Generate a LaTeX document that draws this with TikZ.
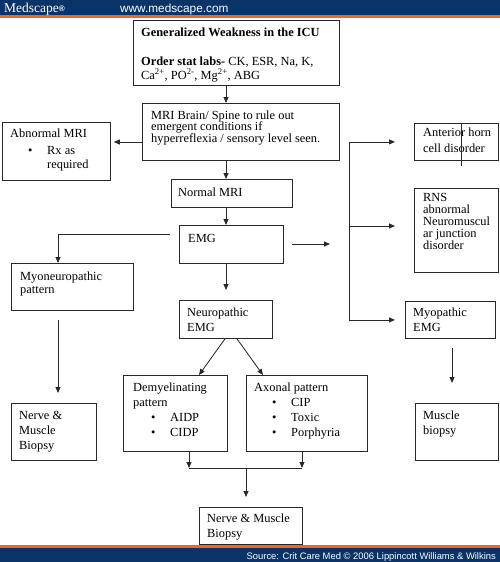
\documentclass[tikz,border=0pt]{standalone}
\usepackage{fontspec}
\setmainfont{Liberation Serif}
\newfontfamily\hsans{Liberation Sans}
\usetikzlibrary{arrows.meta}
\definecolor{hblue}{RGB}{10,52,104}
\definecolor{horange}{RGB}{240,104,24}
\definecolor{ink}{RGB}{40,40,40}
\newcommand{\bul}{\makebox[37pt][l]{\hspace{18pt}\textbullet}}
\begin{document}
\begin{tikzpicture}[x=1pt,y=-1pt,
  box/.style={draw=ink,line width=0.85pt,anchor=north west,inner sep=0pt},
  txt/.style={anchor=base west,inner sep=0pt,align=left,text=black,font=\fontsize{12.4}{14}\selectfont},
  arr/.style={draw=ink,line width=0.85pt,-{Triangle[length=6pt,width=5pt]}},
  ln/.style={draw=ink,line width=0.85pt}]
\useasboundingbox (0,0) rectangle (500,562);
% header / footer bars
\fill[hblue] (0,0) rectangle (500,15);
\fill[horange] (0,15) rectangle (500,17.5);
\fill[horange] (0,545) rectangle (500,548);
\fill[hblue] (0,548) rectangle (500,562);
\node[anchor=base west,inner sep=0pt,text=white,font=\fontsize{13.5}{14}\selectfont] (logo) at (4,12.5) {Medscape\raisebox{0.5pt}{\fontsize{8}{8}\selectfont\hsans\textbf{®}}};
\node[anchor=base west,inner sep=0pt,text=white,font=\hsans\fontsize{11.8}{12}\selectfont] (url) at (120,12.5) {www.medscape.com};
\node[anchor=base east,inner sep=0pt,text=white,font=\hsans\fontsize{9.4}{10}\selectfont] (src) at (496,559) {Source: Crit Care Med © 2006 Lippincott Williams \& Wilkins};
% boxes
\node[box,minimum width=206pt,minimum height=65pt] (top) at (133,20) {};
\node[box,minimum width=197pt,minimum height=57pt] (mri) at (142,103) {};
\node[box,minimum width=108pt,minimum height=58pt] (abn) at (2,122) {};
\node[box,minimum width=121pt,minimum height=28pt] (nmri) at (171,179) {};
\node[box,minimum width=104pt,minimum height=38pt] (emg) at (179,225) {};
\node[box,minimum width=122pt,minimum height=47pt] (myon) at (11,263) {};
\node[box,minimum width=93pt,minimum height=38pt] (neuro) at (179,300) {};
\node[box,minimum width=104pt,minimum height=76pt] (demy) at (123,375) {};
\node[box,minimum width=121pt,minimum height=76pt] (axon) at (246,375) {};
\node[box,minimum width=103pt,minimum height=37pt] (nmb) at (199,507) {};
\node[box,minimum width=85pt,minimum height=57pt] (nmbl) at (11,403) {};
\node[box,minimum width=84pt,minimum height=37pt] (ant) at (414,123) {};
\node[box,minimum width=84pt,minimum height=84pt] (rns) at (414,188) {};
\node[box,minimum width=90pt,minimum height=37pt] (myop) at (405,301) {};
\node[box,minimum width=83pt,minimum height=57pt] (mbio) at (415,403) {};
% texts (base = baseline of last line)
\node[txt] (top-a) at (141,36) {\textbf{Generalized Weakness in the ICU}};
\node[txt] (top-b) at (141,79) {\textbf{Order stat labs-} CK, ESR, Na, K,\\Ca\textsuperscript{2+}, PO\textsuperscript{2-}, Mg\textsuperscript{2+}, ABG};
\node[txt,font=\fontsize{12.4}{11.6}\selectfont] (mri-t) at (151,142.2) {MRI Brain/ Spine to rule out\\emergent conditions if\\hyperreflexia / sensory level seen.};
\node[txt] (abn-a) at (10,137) {Abnormal MRI};
\node[txt] (abn-b) at (10,168) {\bul Rx as\\\hspace*{37pt}required};
\node[txt] (nmri-t) at (178,196) {Normal MRI};
\node[txt] (emg-t) at (188,242) {EMG};
\node[txt,font=\fontsize{12.4}{13.5}\selectfont] (myon-t) at (20,293.5) {Myoneuropathic\\pattern};
\node[txt,font=\fontsize{12.4}{15}\selectfont] (neuro-t) at (187,331) {Neuropathic\\EMG};
\node[txt,font=\fontsize{12.4}{15}\selectfont] (demy-t) at (133,436) {Demyelinating\\pattern\\\bul AIDP\\\bul CIDP};
\node[txt,font=\fontsize{12.4}{15.3}\selectfont] (axon-t) at (254,436.9) {Axonal pattern\\\bul CIP\\\bul Toxic\\\bul Porphyria};
\node[txt,font=\fontsize{12.4}{15}\selectfont] (nmb-t) at (207,537) {Nerve \& Muscle\\Biopsy};
\node[txt,font=\fontsize{12.4}{15}\selectfont] (nmbl-t) at (19,449) {Nerve \&\\Muscle\\Biopsy};
\node[txt,font=\fontsize{12.4}{16}\selectfont] (ant-t) at (423,152) {Anterior horn\\cell disorder};
\node[txt,font=\fontsize{12.4}{12}\selectfont] (rns-t) at (423,249) {RNS\\abnormal\\Neuromuscul\\ar junction\\disorder};
\node[txt,font=\fontsize{12.4}{15}\selectfont] (myop-t) at (413,331) {Myopathic\\EMG};
\node[txt,font=\fontsize{12.4}{15}\selectfont] (mbio-t) at (423,434) {Muscle\\biopsy};
% helper coordinates
\coordinate (spine) at (226,0);
\coordinate (abnY) at (0,142);
\coordinate (er1) at (292,244);
\coordinate (er2) at (330,244);
\coordinate (el) at (170,234);
\coordinate (lx) at (58,0);
\coordinate (xa) at (225,0);
\coordinate (xb) at (199,0);
\coordinate (xc) at (237,0);
\coordinate (xd) at (263,0);
\coordinate (xe) at (189,0);
\coordinate (xf) at (302,0);
\coordinate (xg) at (246,0);
\coordinate (jy) at (0,468);
\coordinate (vx) at (349,0);
\coordinate (rnsY) at (0,226);
\coordinate (mx) at (452,0);
\coordinate (sx) at (461,0);
% connectors
\draw[arr] (top.south -| spine) -- (mri.north -| spine);
\draw[arr,shorten >=3pt] (mri.west |- abnY) -- (abn.east |- abnY);
\draw[arr] (mri.south -| spine) -- (nmri.north -| spine);
\draw[arr] (nmri.south -| spine) -- (emg.north -| spine);
\draw[arr] (er1) -- (er2);
\draw[arr] (el) -| (myon.north -| lx);
\draw[arr,shorten >=10pt] (emg.south -| spine) -- (neuro.north -| spine);
\draw[arr] (neuro.south -| xa) -- (demy.north -| xb);
\draw[arr] (neuro.south -| xc) -- (axon.north -| xd);
\draw[arr] (demy.south -| xe) -- (xe |- jy);
\draw[arr] (axon.south -| xf) -- (xf |- jy);
\draw[ln] (xe |- jy) -- (xf |- jy);
\draw[arr,shorten >=10pt] (xg |- jy) -- (nmb.north -| xg);
\draw[arr,shorten <=9pt,shorten >=10pt] (myon.south -| lx) -- (nmbl.north -| lx);
\draw[ln] (ant.west -| vx) -- (myop.west -| vx);
\draw[arr,shorten >=19pt] (ant.west -| vx) -- (ant.west);
\draw[arr,shorten >=19pt] (vx |- rnsY) -- (rns.west |- rnsY);
\draw[arr,shorten >=10pt] (myop.west -| vx) -- (myop.west);
\draw[arr,shorten <=9pt,shorten >=20pt] (myop.south -| mx) -- (mbio.north -| mx);
\draw[ink,line width=0.7pt] (ant.north -| sx) -- ++(0,43);
\end{tikzpicture}
\end{document}
